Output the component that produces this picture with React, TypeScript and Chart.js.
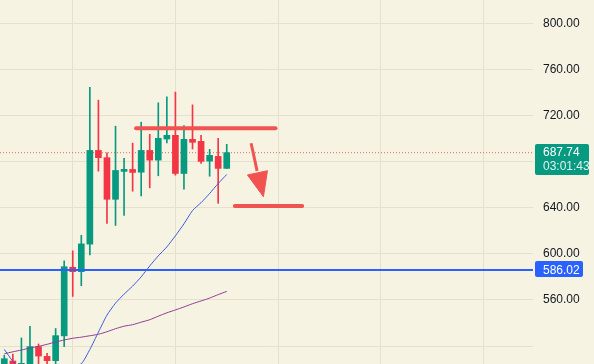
import { useEffect, useRef } from 'react';
import { Chart, registerables } from 'chart.js';

Chart.register(...registerables);

// ---- Candle data (bar index 0..26) ----
const opens = [500, 507, 500, 503.7, 519.5, 511, 507.3, 528.8, 588.3, 584.5, 608.4, 689.7, 683.4, 647.3, 671.5, 673.2, 670.8, 689.7, 681.3, 699.6, 702.8, 669.7, 699.3, 697.6, 680.4, 684.5, 674.1];
const highs = [512, 513, 527, 537, 521.8, 513.6, 535.2, 593.9, 602.6, 616, 744.4, 733.3, 687.7, 710.7, 682.8, 696, 714.2, 703.7, 731, 736.2, 740.3, 711.3, 729.2, 702.8, 690.6, 700.2, 695];
const lows = [497, 495, 497, 500, 503.7, 502, 504, 519.5, 563, 572.3, 599, 671.7, 626.4, 624.6, 633.4, 654.3, 650.2, 657.2, 667.7, 696.1, 668.2, 656, 690.9, 678.4, 667.3, 643.8, 674.1];
const closes = [509, 500, 505, 519.5, 511.3, 507.3, 529, 588.8, 584.5, 608.6, 689.7, 683.4, 647.3, 672.3, 673.3, 670.6, 689.7, 681.3, 700.2, 702.8, 669.7, 699.3, 696.7, 680.2, 685.4, 674.1, 687.74];

// ---- Moving averages ----
const maFast = [517.1, 506.7, 500, 495, 492, 491, 493, 497, 503, 504.5, 517, 532, 546.8, 557.2, 565, 572, 580, 589.5, 598.2, 606, 615.6, 626, 637.5, 644.4, 652.3, 661, 668.8];
const maSlow = [513.3, 515, 516.5, 518.3, 519.7, 521.5, 523.4, 525.3, 526.7, 527.7, 528.9, 530.2, 532.4, 535, 537.2, 538.5, 540.7, 542.8, 545.9, 548.8, 551.3, 553.9, 556.7, 559.1, 561.6, 564.6, 567.4];

// ---- Axis ----
const yTickValues = [520, 560, 600, 640, 680, 720, 760, 800];
const hiddenTickValues = [520, 680];
const xGridValues = [8, 20, 32, 44, 56];
const xRange = [-0.503, 61.8];
const yRange = [504.4, 820.2];

// ---- Price markers ----
const lastPrice = 687.74;
const lastPriceTimer = '03:01:43';
const levelPrice = 586.02;

// ---- Drawings (bar index, price) ----
const resistanceX = [15.4, 31.7];
const resistanceY = [708.9, 708.9];
const targetX = [26.95, 34.82];
const targetY = [641.5, 641.5];
const arrowShaftX = [28.85, 29.55];
const arrowShaftY = [695.9, 672];
const arrowHeadX = [28.42, 30.29, 30.76, 28.42];
const arrowHeadY = [668.4, 649.5, 672.1, 668.4];

const UP = '#089981';
const DOWN = '#f23645';
const DRAW_RED = '#f05350';
const BG = '#f7f3e3';
const GRID = '#e6e1ce';
const FONT = "'Liberation Sans', Arial, sans-serif";

const idx = opens.map((_, i) => i);
const candleColors = idx.map((i) => (closes[i] >= opens[i] ? UP : DOWN));

const priceLabels = {
  id: 'priceLabels',
  afterDraw(chart: any) {
    const { ctx, scales } = chart;
    const y = scales.y;
    const left = chart.chartArea.right + 2;
    ctx.save();
    ctx.font = `12px ${FONT}`;
    ctx.textBaseline = 'middle';
    ctx.textAlign = 'left';
    // last price
    const py = y.getPixelForValue(lastPrice);
    ctx.fillStyle = UP;
    ctx.beginPath();
    ctx.roundRect(left, Math.round(py - 9), 54, 31, 2);
    ctx.fill();
    ctx.fillStyle = '#ffffff';
    ctx.fillText(lastPrice.toFixed(2), left + 8, py + 0.5);
    ctx.fillStyle = '#dff3ee';
    ctx.fillText(lastPriceTimer, left + 8, py + 14.5);
    // level
    const ly = y.getPixelForValue(levelPrice);
    ctx.fillStyle = '#2962ff';
    ctx.beginPath();
    ctx.roundRect(left, Math.round(ly - 8.5), 48, 16, 2);
    ctx.fill();
    ctx.fillStyle = '#ffffff';
    ctx.fillText(levelPrice.toFixed(2), left + 8, ly + 0.5);
    ctx.restore();
  },
};

export default function App() {
  const ref = useRef<HTMLCanvasElement>(null);
  useEffect(() => {
    document.body.style.margin = '0';
    document.body.style.background = BG;
    const line = (xs: number[], ys: number[]) => xs.map((x, i) => ({ x, y: ys[i] }));
    const chart = new Chart(ref.current as HTMLCanvasElement, {
      type: 'bar',
      data: {
        datasets: [
          {
            type: 'bar',
            data: idx.map((i) => ({ x: i, y: [lows[i], highs[i]] })) as any,
            backgroundColor: candleColors,
            barThickness: 1,
            grouped: false,
            order: 6,
          } as any,
          {
            type: 'bar',
            data: idx.map((i) => ({ x: i, y: [opens[i], closes[i]] })) as any,
            backgroundColor: candleColors,
            barThickness: 6,
            minBarLength: 1,
            grouped: false,
            order: 5,
          } as any,
          {
            type: 'line',
            data: line([xRange[0], xRange[1]], [lastPrice, lastPrice]),
            borderColor: 'rgba(222,80,78,0.85)',
            borderWidth: 1,
            borderDash: [1, 2],
            pointRadius: 0,
            order: 7,
          },
          {
            type: 'line',
            data: idx.map((i) => ({ x: i, y: maSlow[i] })),
            borderColor: '#8e3d96',
            borderWidth: 1,
            pointRadius: 0,
            tension: 0.2,
            order: 3,
          },
          {
            type: 'line',
            data: idx.map((i) => ({ x: i, y: maFast[i] })),
            borderColor: '#3a5bdc',
            borderWidth: 1,
            pointRadius: 0,
            tension: 0.2,
            order: 3,
          },
          {
            type: 'line',
            data: line([xRange[0], xRange[1]], [levelPrice, levelPrice]),
            borderColor: '#2962ff',
            borderWidth: 2,
            pointRadius: 0,
            order: 2,
          },
          {
            type: 'line',
            data: line(resistanceX, resistanceY),
            borderColor: DRAW_RED,
            borderWidth: 4,
            borderCapStyle: 'round',
            pointRadius: 0,
            order: 1,
          },
          {
            type: 'line',
            data: line(targetX, targetY),
            borderColor: DRAW_RED,
            borderWidth: 4,
            borderCapStyle: 'round',
            pointRadius: 0,
            order: 1,
          },
          {
            type: 'line',
            data: line(arrowShaftX, arrowShaftY),
            borderColor: DRAW_RED,
            borderWidth: 3,
            pointRadius: 0,
            order: 1,
          },
          {
            type: 'line',
            data: line(arrowHeadX, arrowHeadY),
            borderColor: DRAW_RED,
            backgroundColor: DRAW_RED,
            borderWidth: 1,
            fill: 'shape',
            pointRadius: 0,
            order: 1,
          } as any,
        ],
      },
      options: {
        animation: false,
        responsive: false,
        events: [],
        layout: { padding: 0 },
        plugins: { legend: { display: false }, tooltip: { enabled: false } },
        scales: {
          x: {
            type: 'linear',
            min: xRange[0],
            max: xRange[1],
            offset: false,
            ticks: { display: false },
            grid: { color: GRID, drawTicks: false, offset: false },
            border: { display: false },
            afterBuildTicks: (s: any) => {
              s.ticks = xGridValues.map((v) => ({ value: v }));
            },
            afterFit: (s: any) => {
              s.height = 0;
              s.paddingLeft = 0;
              s.paddingRight = 0;
              s.paddingTop = 0;
              s.paddingBottom = 0;
            },
          },
          y: {
            type: 'linear',
            position: 'right',
            min: yRange[0],
            max: yRange[1],
            grid: { color: GRID, drawTicks: false },
            border: { display: false },
            afterBuildTicks: (s: any) => {
              s.ticks = yTickValues.map((v) => ({ value: v }));
            },
            afterFit: (s: any) => {
              s.width = 61;
              s.paddingTop = 0;
              s.paddingBottom = 0;
              s.paddingLeft = 0;
              s.paddingRight = 0;
            },
            ticks: {
              padding: 10,
              color: '#131722',
              font: { family: FONT, size: 12 },
              callback: (v: any) => (hiddenTickValues.includes(Number(v)) ? '' : Number(v).toFixed(2)),
            },
          },
        },
      },
      plugins: [priceLabels],
    } as any);
    return () => chart.destroy();
  }, []);
  return (
    <div style={{ width: 594, height: 364, background: BG }}>
      <canvas ref={ref} width={594} height={364} style={{ display: 'block' }} />
    </div>
  );
}
